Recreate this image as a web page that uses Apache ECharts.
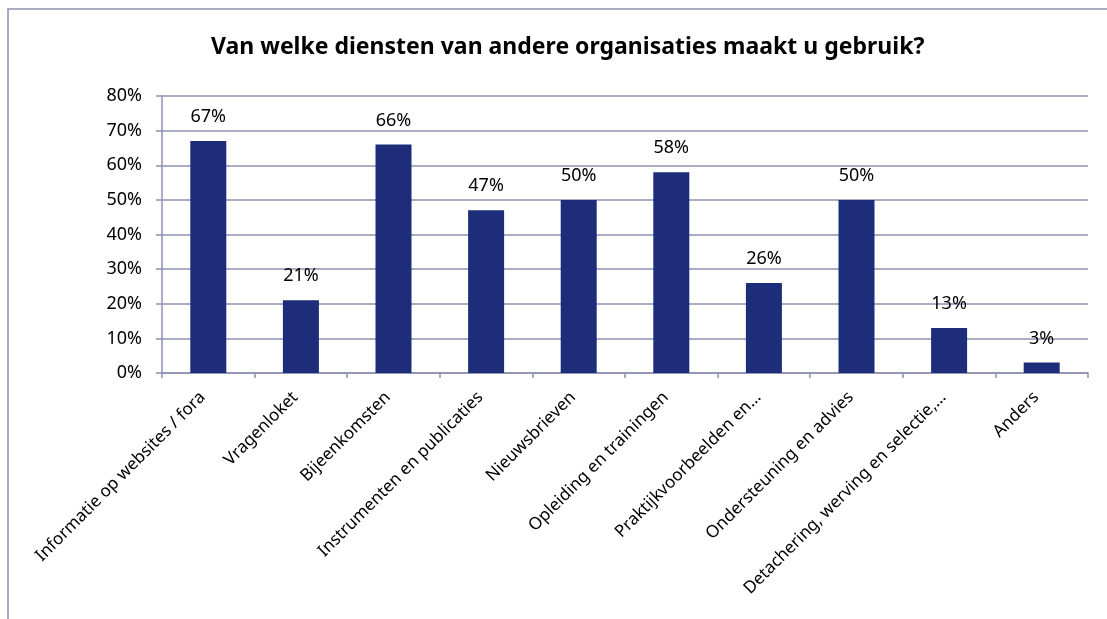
<!DOCTYPE html>
<html>
<head>
<meta charset="utf-8">
<script src="https://cdn.jsdelivr.net/npm/echarts@6/dist/echarts.min.js"></script>
<style>
  html, body { margin: 0; padding: 0; background: #fff; }
  #main { width: 1107px; height: 619px; }
</style>
</head>
<body>
<div id="main"></div>
<script>
// categorieën en percentages
var categories = [
  'Informatie op websites / fora',
  'Vragenloket',
  'Bijeenkomsten',
  'Instrumenten en publicaties',
  'Nieuwsbrieven',
  'Opleiding en trainingen',
  'Praktijkvoorbeelden en…',
  'Ondersteuning en advies',
  'Detachering, werving en selectie,…',
  'Anders'
];
var values = [67, 21, 66, 47, 50, 58, 26, 50, 13, 3];
var yTicks = [0, 10, 20, 30, 40, 50, 60, 70, 80];

var lineColor = '#8c90b0';
var font = 'Noto Sans';

var chart = echarts.init(document.getElementById('main'));
chart.setOption({
  animation: false,
  title: {
    text: 'Van welke diensten van andere organisaties maakt u gebruik?',
    left: 206,
    top: 31,
    textStyle: { fontFamily: font, fontSize: 23, fontWeight: 'bold', color: '#000' }
  },
  // kader om de grafiek
  graphic: [{
    type: 'rect',
    shape: { x: 8, y: 9, width: 1200, height: 700 },
    style: { fill: 'none', stroke: lineColor, lineWidth: 1.5 },
    silent: true
  }],
  grid: { left: 162, right: 19, top: 96, bottom: 246 },
  xAxis: {
    type: 'category',
    data: categories,
    axisLine: { lineStyle: { color: lineColor, width: 1.5 } },
    axisTick: { show: true, length: 5, lineStyle: { color: lineColor, width: 1.5 } },
    axisLabel: {
      rotate: 45,
      interval: 0,
      margin: 16,
      padding: [0, 8, 0, 0],
      fontFamily: font,
      fontSize: 17,
      color: '#000'
    }
  },
  yAxis: {
    type: 'value',
    min: yTicks[0],
    max: yTicks[yTicks.length - 1],
    interval: 10,
    axisLine: { show: true, lineStyle: { color: lineColor, width: 1.5 } },
    axisTick: { show: true, length: 6, lineStyle: { color: lineColor, width: 1.5 } },
    splitLine: { lineStyle: { color: lineColor, width: 1.5 } },
    axisLabel: {
      margin: 20,
      formatter: '{value}%',
      fontFamily: font,
      fontSize: 18,
      color: '#000'
    }
  },
  series: [{
    type: 'bar',
    data: values,
    barWidth: 36,
    itemStyle: { color: '#1d2d7a' },
    label: {
      show: true,
      position: 'top',
      distance: 15,
      formatter: '{c}%',
      fontFamily: font,
      fontSize: 18,
      color: '#000'
    }
  }]
});
</script>
</body>
</html>
